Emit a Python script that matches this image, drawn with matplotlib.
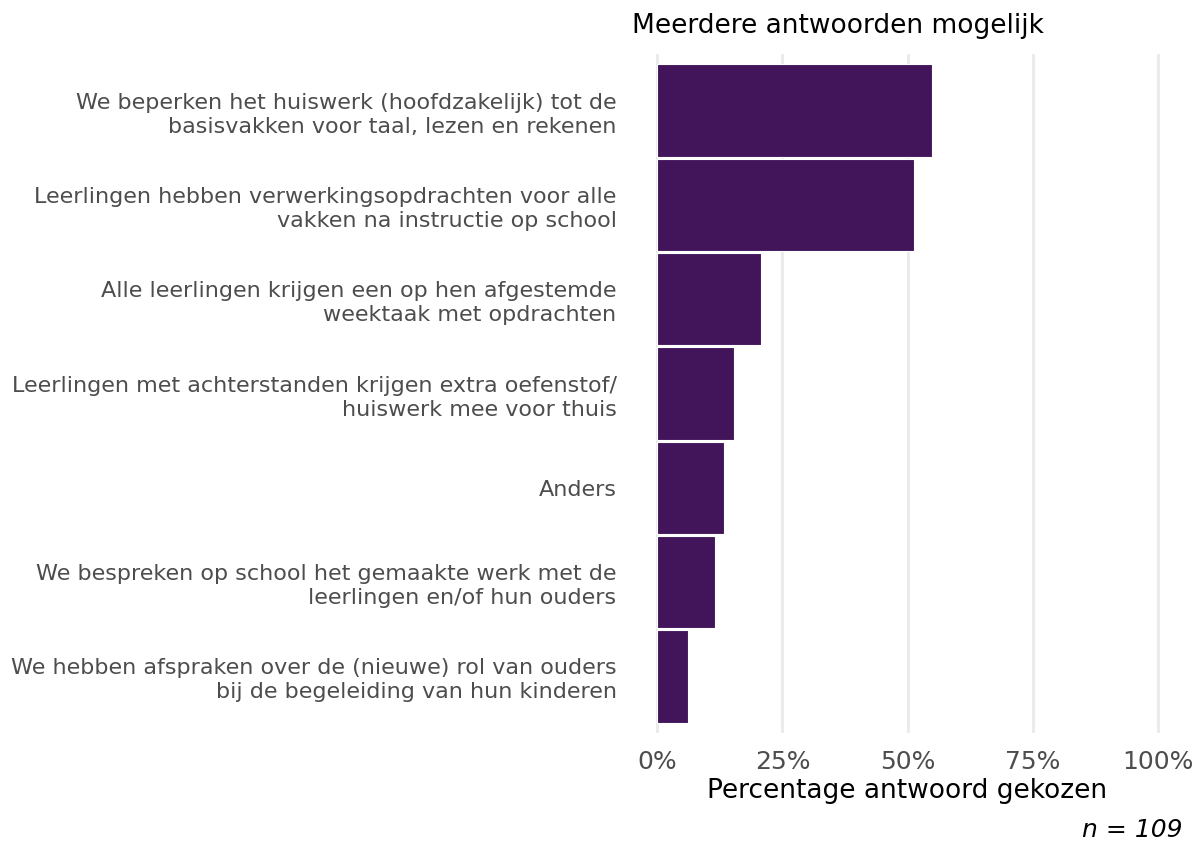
import matplotlib
matplotlib.use("Agg")
import matplotlib.pyplot as plt
from matplotlib.ticker import FuncFormatter

categories = [
    "We beperken het huiswerk (hoofdzakelijk) tot de\nbasisvakken voor taal, lezen en rekenen",
    "Leerlingen hebben verwerkingsopdrachten voor alle\nvakken na instructie op school",
    "Alle leerlingen krijgen een op hen afgestemde\nweektaak met opdrachten",
    "Leerlingen met achterstanden krijgen extra oefenstof/\nhuiswerk mee voor thuis",
    "Anders",
    "We bespreken op school het gemaakte werk met de\nleerlingen en/of hun ouders",
    "We hebben afspraken over de (nieuwe) rol van ouders\nbij de begeleiding van hun kinderen",
]
percentages = [54.9, 51.3, 20.8, 15.3, 13.4, 11.6, 6.2]
x_ticks = [0, 25, 50, 75, 100]

plt.rcParams['font.family'] = ['DejaVu Sans']

fig = plt.figure(figsize=(11.99, 8.44), dpi=100)
ax = fig.add_axes([632.5 / 1199, 1 - 733 / 844, 550 / 1199, 679 / 844])

ypos = list(range(len(categories)))
ax.barh(ypos, percentages, height=0.98, color="#42155A", edgecolor="white", linewidth=0.8, zorder=3)

ax.set_xlim(-5, 105)
ax.set_ylim(len(categories) - 0.4, -0.6)
ax.set_xticks(x_ticks)
ax.xaxis.set_major_formatter(FuncFormatter(lambda v, p: f"{int(v)}%"))
ax.set_yticks(ypos)
ax.set_yticklabels(categories, fontsize=16, color="#4D4D4D", linespacing=1.25)
ax.tick_params(axis="x", labelsize=18, colors="#4D4D4D", length=0, pad=12)
ax.tick_params(axis="y", length=0, pad=11.5)
for lab in ax.get_xticklabels():
    lab.set_color("#4D4D4D")

ax.grid(axis="x", color="#EBEBEB", linewidth=2.2, zorder=0)
ax.grid(axis="y", visible=False)
for s in ax.spines.values():
    s.set_visible(False)

ax.set_xlabel("Percentage antwoord gekozen", fontsize=19, color="black", labelpad=3)
ax.set_title("Meerdere antwoorden mogelijk", fontsize=19, color="black", loc="left", pad=15)
fig.text(1183 / 1199, 1 - 830 / 844, "n = 109", fontsize=18, style="italic",
         ha="right", va="center", color="black")

fig.savefig("out.png", dpi=100)
